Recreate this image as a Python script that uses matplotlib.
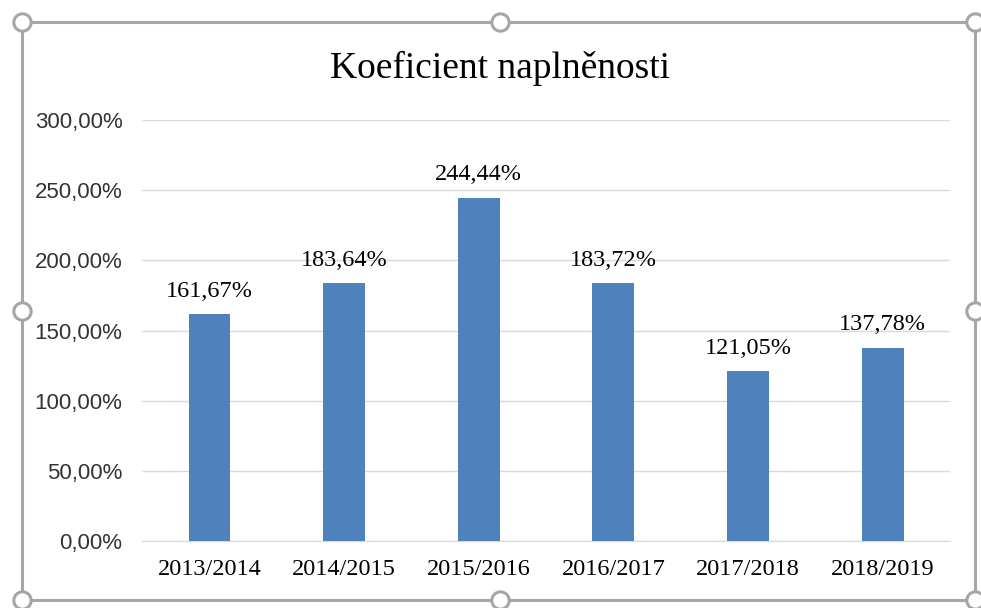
import numpy as np
import matplotlib.pyplot as plt
from matplotlib.lines import Line2D

# school years and the fill coefficient (%) for each
years = ['2013/2014', '2014/2015', '2015/2016', '2016/2017', '2017/2018', '2018/2019']
values = [161.67, 183.64, 244.44, 183.72, 121.05, 137.78]
yticks = [0, 50, 100, 150, 200, 250, 300]

def pct(v):
    return f"{v:.2f}".replace('.', ',') + '%'

fig = plt.figure(figsize=(9.81, 6.08), dpi=100)
ax = fig.add_axes([0.1448, 0.1102, 0.8236, 0.6924])

x = np.arange(len(years))
ax.bar(x, values, width=0.31, color='#4f81bd', zorder=3)
for xi, v in zip(x, values):
    ax.annotate(pct(v), (xi, v), xytext=(0, 9), textcoords='offset points',
                ha='center', va='bottom', family='Liberation Serif', fontsize=17.5)

ax.set_xlim(-0.5, len(years) - 0.5)
ax.set_ylim(0, 300)
ax.set_yticks(yticks)
ax.set_yticklabels([pct(t) for t in yticks], family='Liberation Sans', fontsize=16, color='#333333')
ax.set_xticks(x)
ax.set_xticklabels(years, family='Liberation Serif', fontsize=17.5)
ax.tick_params(axis='y', length=0, pad=14)
ax.tick_params(axis='x', length=0, pad=13)
ax.grid(axis='y', color='#d9d9d9', linewidth=1, zorder=0)
for s in ['top', 'right', 'left']:
    ax.spines[s].set_visible(False)
ax.spines['bottom'].set_color('#d9d9d9')

fig.text(0.5097, 0.888, 'Koeficient naplněnosti', ha='center', va='center',
         family='Liberation Serif', fontsize=27)

# selection frame with handles, as in the screenshot
x0, x1 = 22 / 981, 975 / 981
y0, y1 = 1 - 600 / 608, 1 - 22 / 608
fig.add_artist(Line2D([x0, x1, x1, x0, x0], [y0, y0, y1, y1, y0], transform=fig.transFigure,
                      color='#a6a6a6', linewidth=2.2, clip_on=False))
xm, ym = 500 / 981, (y0 + y1) / 2
hx = [x0, xm, x1, x0, x1, x0, xm, x1]
hy = [y1, y1, y1, ym, ym, y0, y0, y0]
fig.add_artist(Line2D(hx, hy, transform=fig.transFigure, linestyle='none', marker='o',
                      markersize=12.5, markerfacecolor='white', markeredgecolor='#a6a6a6',
                      markeredgewidth=2.2, clip_on=False))

plt.savefig('out.png', dpi=100)
